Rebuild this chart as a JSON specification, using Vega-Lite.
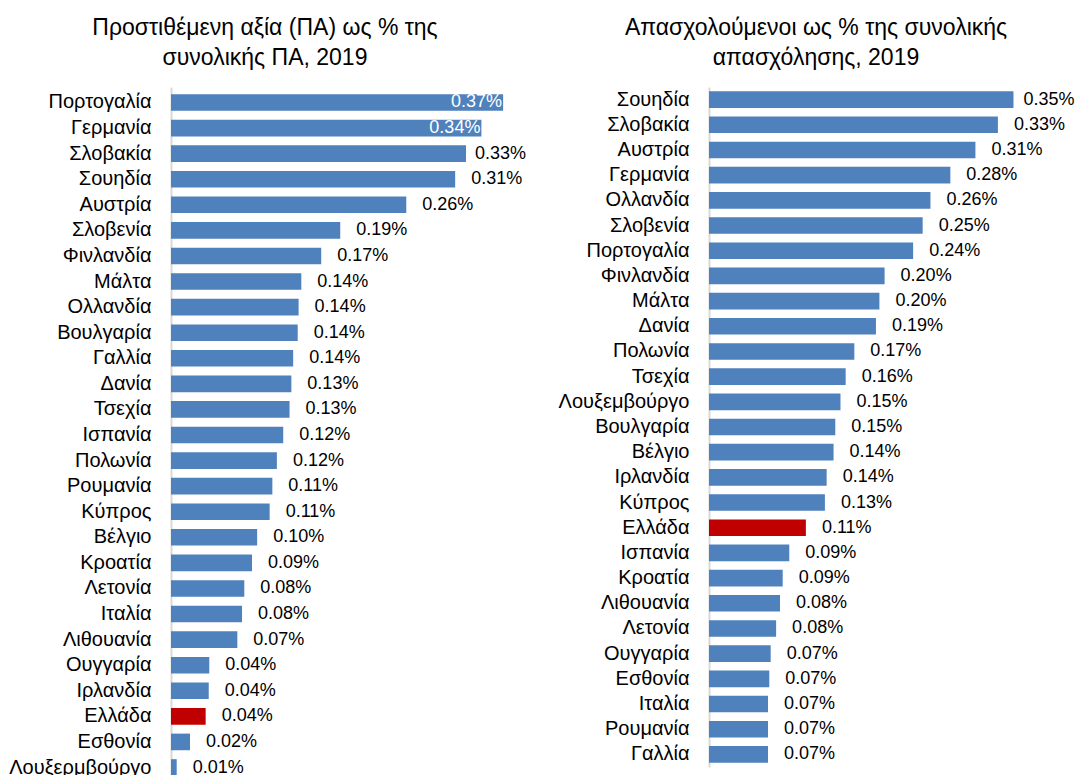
{
  "$schema": "https://vega.github.io/schema/vega-lite/v6.json",
  "padding": {"left": 8, "top": 17, "right": 0, "bottom": 0},
  "background": "white",
  "bounds": "flush",
  "spacing": 198,
  "config": {
    "view": {"stroke": null},
    "font": "Liberation Sans",
    "title": {"font": "Liberation Sans", "fontSize": 23, "fontWeight": "normal", "color": "#000000", "lineHeight": 30, "anchor": "middle", "offset": 17},
    "axis": {"labelFont": "Liberation Sans", "labelFontSize": 20, "labelColor": "#000000", "ticks": false, "grid": false, "domainColor": "#D9D9D9", "domainWidth": 2, "labelPadding": 20, "title": null}
  },
  "hconcat": [
    {
      "title": {"text": ["Προστιθέμενη αξία (ΠΑ) ως % της", "συνολικής ΠΑ, 2019"], "dx": -76},
      "width": 340,
      "height": 696,
      "data": {"values": [
        {"country": "Πορτογαλία", "value": 0.00367},
        {"country": "Γερμανία", "value": 0.00343},
        {"country": "Σλοβακία", "value": 0.00326},
        {"country": "Σουηδία", "value": 0.00314},
        {"country": "Αυστρία", "value": 0.00260},
        {"country": "Σλοβενία", "value": 0.00187},
        {"country": "Φινλανδία", "value": 0.00166},
        {"country": "Μάλτα", "value": 0.00144},
        {"country": "Ολλανδία", "value": 0.00141},
        {"country": "Βουλγαρία", "value": 0.00140},
        {"country": "Γαλλία", "value": 0.00135},
        {"country": "Δανία", "value": 0.00133},
        {"country": "Τσεχία", "value": 0.00131},
        {"country": "Ισπανία", "value": 0.00124},
        {"country": "Πολωνία", "value": 0.00117},
        {"country": "Ρουμανία", "value": 0.00112},
        {"country": "Κύπρος", "value": 0.00109},
        {"country": "Βέλγιο", "value": 0.000952},
        {"country": "Κροατία", "value": 0.000895},
        {"country": "Λετονία", "value": 0.00081},
        {"country": "Ιταλία", "value": 0.000785},
        {"country": "Λιθουανία", "value": 0.000733},
        {"country": "Ουγγαρία", "value": 0.000423},
        {"country": "Ιρλανδία", "value": 0.000417},
        {"country": "Ελλάδα", "value": 0.000383},
        {"country": "Εσθονία", "value": 0.00021},
        {"country": "Λουξερμβούργο", "value": 0.000063}
      ]},
      "encoding": {
        "y": {"field": "country", "type": "nominal", "sort": null, "scale": {"paddingInner": 0.35, "paddingOuter": 0.281}, "axis": {}},
        "x": {"field": "value", "type": "quantitative", "scale": {"domain": [0, 0.003757], "nice": false}, "axis": null}
      },
      "layer": [
        {"mark": {"type": "bar"}, "encoding": {"color": {"condition": {"test": "datum.country === 'Ελλάδα'", "value": "#C00000"}, "value": "#4F81BD"}}},
        {"transform": [{"filter": "datum.value < 0.0032"}], "mark": {"type": "text", "align": "left", "baseline": "middle", "dx": 16, "fontSize": 18, "color": "#000000"}, "encoding": {"text": {"field": "value", "type": "quantitative", "format": ".2%"}}},
        {"transform": [{"filter": "datum.value >= 0.0032 && datum.value < 0.0034"}], "mark": {"type": "text", "align": "left", "baseline": "middle", "dx": 9, "fontSize": 18, "color": "#000000"}, "encoding": {"text": {"field": "value", "type": "quantitative", "format": ".2%"}}},
        {"transform": [{"filter": "datum.value >= 0.0034"}], "mark": {"type": "text", "align": "right", "baseline": "middle", "dx": -1, "fontSize": 18, "color": "#FFFFFF"}, "encoding": {"text": {"field": "value", "type": "quantitative", "format": ".2%"}}}
      ]
    },
    {
      "title": {"text": ["Απασχολούμενοι ως % της συνολικής", "απασχόλησης, 2019"], "dx": -58},
      "width": 330,
      "height": 680,
      "data": {"values": [
        {"country": "Σουηδία", "value": 0.00352},
        {"country": "Σλοβακία", "value": 0.00334},
        {"country": "Αυστρία", "value": 0.00308},
        {"country": "Γερμανία", "value": 0.00279},
        {"country": "Ολλανδία", "value": 0.00256},
        {"country": "Σλοβενία", "value": 0.00247},
        {"country": "Πορτογαλία", "value": 0.00236},
        {"country": "Φινλανδία", "value": 0.00203},
        {"country": "Μάλτα", "value": 0.00197},
        {"country": "Δανία", "value": 0.00193},
        {"country": "Πολωνία", "value": 0.00168},
        {"country": "Τσεχία", "value": 0.00158},
        {"country": "Λουξεμβούργο", "value": 0.00152},
        {"country": "Βουλγαρία", "value": 0.00146},
        {"country": "Βέλγιο", "value": 0.00144},
        {"country": "Ιρλανδία", "value": 0.00136},
        {"country": "Κύπρος", "value": 0.00134},
        {"country": "Ελλάδα", "value": 0.00112},
        {"country": "Ισπανία", "value": 0.000928},
        {"country": "Κροατία", "value": 0.000852},
        {"country": "Λιθουανία", "value": 0.000821},
        {"country": "Λετονία", "value": 0.000776},
        {"country": "Ουγγαρία", "value": 0.000713},
        {"country": "Εσθονία", "value": 0.000697},
        {"country": "Ιταλία", "value": 0.000682},
        {"country": "Ρουμανία", "value": 0.000682},
        {"country": "Γαλλία", "value": 0.000682}
      ]},
      "encoding": {
        "y": {"field": "country", "type": "nominal", "sort": null, "scale": {"paddingInner": 0.34, "paddingOuter": 0.17}, "axis": {}},
        "x": {"field": "value", "type": "quantitative", "scale": {"domain": [0, 0.003815], "nice": false}, "axis": null}
      },
      "layer": [
        {"mark": {"type": "bar"}, "encoding": {"color": {"condition": {"test": "datum.country === 'Ελλάδα'", "value": "#C00000"}, "value": "#4F81BD"}}},
        {"transform": [{"filter": "datum.value < 0.0035"}], "mark": {"type": "text", "align": "left", "baseline": "middle", "dx": 16, "fontSize": 18, "color": "#000000"}, "encoding": {"text": {"field": "value", "type": "quantitative", "format": ".2%"}}},
        {"transform": [{"filter": "datum.value >= 0.0035"}], "mark": {"type": "text", "align": "left", "baseline": "middle", "dx": 10, "fontSize": 18, "color": "#000000"}, "encoding": {"text": {"field": "value", "type": "quantitative", "format": ".2%"}}}
      ]
    }
  ]
}
